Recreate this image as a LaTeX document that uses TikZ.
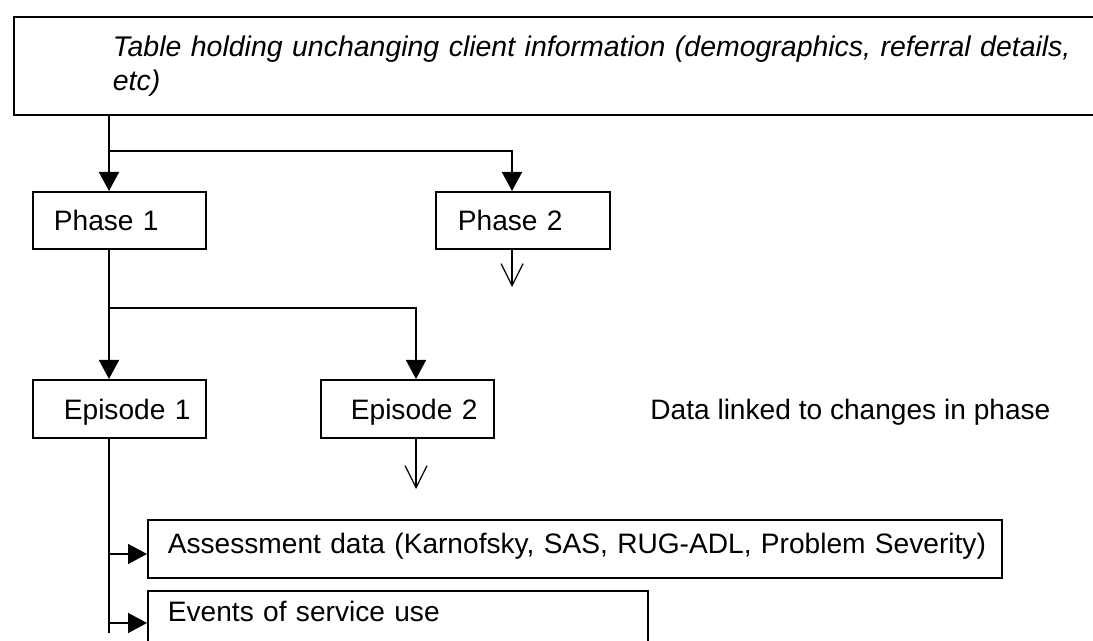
\documentclass[tikz,border=0pt]{standalone}
\usepackage{fontspec}
\setmainfont{Liberation Sans}
\usetikzlibrary{arrows.meta}

\begin{document}
\begin{tikzpicture}[x=0.02cm, y=-0.02cm,
  every node/.style={font=\fontsize{16}{19.3}\selectfont},
  box/.style={draw, line width=1pt, anchor=north west, inner sep=0pt, align=left},
  link/.style={line width=0.9pt, -{Triangle[width=0.4cm,length=0.38cm]}},
  cont/.style={line width=0.7pt, -{Straight Barb[width=0.44cm,length=0.44cm]}}]
  \useasboundingbox (0,0) rectangle (1093,641);

  % client table (runs off the right edge)
  \node[box, inner xsep=1.98cm, text width=21cm, minimum height=1.96cm,
        font=\fontsize{16.2}{19.3}\selectfont\itshape] (client) at (13,16)
    {Table holding unchanging client information (demographics, referral details,\\ etc)};

  % phases
  \node[box, text width=3.46cm, text height=0.78cm, text depth=0.36cm] (phase1) at (32,191)
    {\hspace*{0.42cm}Phase 1};
  \node[box, text width=3.48cm, text height=0.78cm, text depth=0.36cm] (phase2) at (435,191)
    {\hspace*{0.44cm}Phase 2};

  % episodes
  \node[box, text width=3.46cm, text height=0.8cm, text depth=0.36cm] (episode1) at (32,379)
    {\hspace*{0.62cm}Episode 1};
  \node[box, text width=3.46cm, text height=0.8cm, text depth=0.36cm] (episode2) at (320,379)
    {\hspace*{0.6cm}Episode 2};
  \node[anchor=base west, inner sep=0pt] (note) at (650,420) {Data linked to changes in phase};

  % data tables
  \node[box, text width=17.08cm, text height=0.68cm, text depth=0.48cm] (assess) at (147,519)
    {\hspace*{0.4cm}Assessment data (Karnofsky, SAS, RUG-ADL, Problem Severity)};
  \node[box, text width=10cm, text height=0.62cm, text depth=0.6cm] (events) at (147,590)
    {\hspace*{0.4cm}Events of service use};

  % branch points and free ends
  \coordinate (fork1) at (109,151);
  \coordinate (fork2) at (109,308);
  \coordinate (p2in) at (512,151);
  \coordinate (e2in) at (416,308);
  \coordinate (p2out) at (512,287);
  \coordinate (e2out) at (416,489);
  \coordinate (in1) at (109,554);
  \coordinate (in2) at (109,623);
  \coordinate (tail) at (109,633);

  % connectors
  \draw[link] (fork1 |- client.south) -- (fork1 |- phase1.north);
  \draw[link] (fork1) -- (p2in) -- (p2in |- phase2.north);
  \draw[cont] (p2out |- phase2.south) -- (p2out);

  \draw[link] (fork2 |- phase1.south) -- (fork2 |- episode1.north);
  \draw[link] (fork2) -- (e2in) -- (e2in |- episode2.north);
  \draw[cont] (e2out |- episode2.south) -- (e2out);

  \draw[line width=0.9pt] (fork2 |- episode1.south) -- (tail);
  \draw[link] (in1) -- (in1 -| assess.west);
  \draw[link] (in2) -- (in2 -| events.west);
\end{tikzpicture}
\end{document}
